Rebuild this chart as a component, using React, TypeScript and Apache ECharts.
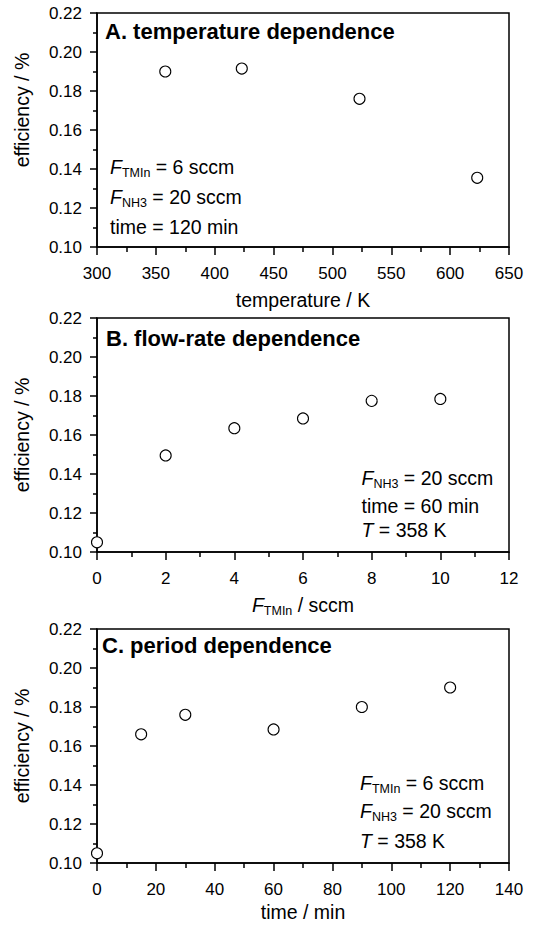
import React, { useEffect, useRef } from "react";
import * as echarts from "echarts";

// ---------- data ----------
const tempK = [358, 423, 523, 623];
const effTemp = [0.19, 0.1915, 0.176, 0.1355];

const flowTMIn = [0, 2, 4, 6, 8, 10];
const effFlow = [0.105, 0.1495, 0.1635, 0.1685, 0.1775, 0.1785];

const timeMin = [0, 15, 30, 60, 90, 120];
const effTime = [0.105, 0.166, 0.176, 0.1685, 0.18, 0.19];

const yRange = { min: 0.1, max: 0.22, interval: 0.02 };
const xRanges = [
  { min: 300, max: 650, interval: 50 },
  { min: 0, max: 12, interval: 2 },
  { min: 0, max: 140, interval: 20 },
];

const titles = ["A. temperature dependence", "B. flow-rate dependence", "C. period dependence"];
const xNames = ["temperature / K", "{f|F}{s|TMIn}{m| / sccm}", "time / min"];
const yName = "efficiency / %";
const notesA = ["{f|F}{s|TMIn}{m| = 6 sccm}", "{f|F}{s|NH3}{m| = 20 sccm}", "{m|time = 120 min}"];
const notesB = ["{f|F}{s|NH3}{m| = 20 sccm}", "{m|time = 60 min}", "{f|T}{m| = 358 K}"];
const notesC = ["{f|F}{s|TMIn}{m| = 6 sccm}", "{f|F}{s|NH3}{m| = 20 sccm}", "{f|T}{m| = 358 K}"];

// ---------- layout ----------
const FONT = '"Liberation Sans", Arial, Helvetica, sans-serif';
const W = 547;
const H = 929;
const GRID_LEFT = 97;
const GRID_W = 412;
const GRID_H = 234;
const gridTops = [13, 318, 629];

const MAIN = 19.5;
const SUB = 12.5;
const LH = 30;

const richOpt = {
  f: { fontFamily: FONT, fontStyle: "italic", fontSize: MAIN, lineHeight: LH, color: "#000", fill: "#000" },
  m: { fontFamily: FONT, fontSize: MAIN, lineHeight: LH, color: "#000", fill: "#000" },
  s: {
    fontFamily: FONT,
    fontSize: SUB,
    lineHeight: 13,
    verticalAlign: "top",
    padding: [14.3, 0, 0, 0],
    color: "#000",
    fill: "#000",
  },
};

// baseline offset of main text from the top of a rich line
const BASE_OFF = LH / 2 + 0.3465 * MAIN;

function noteLines(lines: string[], x: number, baselines: number[]) {
  return lines.map((t, i) => ({
    type: "text",
    x,
    y: baselines[i] - BASE_OFF,
    silent: true,
    z: 100,
    style: { text: t, rich: richOpt, verticalAlign: "top", align: "left", fill: "#000" },
  }));
}

export default function App() {
  const ref = useRef<HTMLDivElement>(null);

  useEffect(() => {
    if (!ref.current) return;
    const chart = echarts.init(ref.current, null, { renderer: "svg" });

    const seriesData = [
      tempK.map((x, i) => [x, effTemp[i]]),
      flowTMIn.map((x, i) => [x, effFlow[i]]),
      timeMin.map((x, i) => [x, effTime[i]]),
    ];
    const xNameGaps = [42.5, 38, 38.5];
    const yNamePad = [
      [0, 0, 0, 40],
      [0, 0, 0, 0],
      [0, 0, 0, 0],
    ];

    const axisLineStyle = { color: "#000", width: 1.5 };

    const titleBase = [39.3, 345.7, 653.3];
    const titleX = [105, 106, 102];

    const option: any = {
      animation: false,
      backgroundColor: "#fff",
      textStyle: { fontFamily: FONT },
      grid: gridTops.map((t) => ({
        left: GRID_LEFT,
        top: t,
        width: GRID_W,
        height: GRID_H,
        show: true,
        borderColor: "#000",
        borderWidth: 1.5,
        backgroundColor: "transparent",
        containLabel: false,
      })),
      xAxis: xRanges.map((r, i) => ({
        type: "value",
        gridIndex: i,
        min: r.min,
        max: r.max,
        interval: r.interval,
        name: xNames[i],
        nameLocation: "middle",
        nameGap: xNameGaps[i],
        nameTextStyle: { fontFamily: FONT, fontSize: MAIN, color: "#000", rich: richOpt },
        axisLine: { show: true, onZero: false, lineStyle: axisLineStyle },
        axisTick: { show: true, inside: false, length: 8, lineStyle: { color: "#000", width: 1.5 } },
        minorTick: { show: true, splitNumber: 2, length: 5, lineStyle: { color: "#000", width: 1.5 } },
        splitLine: { show: false },
        axisLabel: { fontFamily: FONT, fontSize: 17, color: "#000", margin: 18, showMinLabel: true, showMaxLabel: true },
      })),
      yAxis: xRanges.map((_, i) => ({
        type: "value",
        gridIndex: i,
        min: yRange.min,
        max: yRange.max,
        interval: yRange.interval,
        name: yName,
        nameLocation: "middle",
        nameGap: 65,
        nameRotate: 90,
        nameTextStyle: { fontFamily: FONT, fontSize: MAIN, color: "#000", padding: yNamePad[i] },
        axisLine: { show: true, onZero: false, lineStyle: axisLineStyle },
        axisTick: { show: true, inside: false, length: 7, lineStyle: { color: "#000", width: 1.5 } },
        minorTick: { show: true, splitNumber: 2, length: 4, lineStyle: { color: "#000", width: 1.5 } },
        splitLine: { show: false },
        axisLabel: {
          fontFamily: FONT,
          fontSize: 17,
          color: "#000",
          margin: 15,
          formatter: (v: number) => v.toFixed(2),
          showMinLabel: true,
          showMaxLabel: true,
        },
      })),
      series: seriesData.map((d, i) => ({
        type: "scatter",
        xAxisIndex: i,
        yAxisIndex: i,
        data: d,
        symbol: "circle",
        symbolSize: 11,
        clip: false,
        z: 10,
        itemStyle: { color: "#fff", borderColor: "#000", borderWidth: 1.1, opacity: 1 },
      })),
      graphic: [
        ...titles.map((t, i) => ({
          type: "text",
          x: titleX[i],
          y: titleBase[i] - 0.3465 * 22,
          silent: true,
          z: 100,
          style: {
            text: t,
            font: `bold 22px ${FONT}`,
            fill: "#000",
            align: "left",
            verticalAlign: "middle",
          },
        })),
        ...noteLines(notesA, 110, [174, 204, 234]),
        ...noteLines(notesB, 361.5, [485, 513, 537]),
        ...noteLines(notesC, 360, [790, 818, 848]),
      ],
    };

    chart.setOption(option);
    return () => chart.dispose();
  }, []);

  return (
    <div
      ref={ref}
      style={{ position: "absolute", left: 0, top: 0, width: W, height: H, background: "#fff" }}
    />
  );
}
